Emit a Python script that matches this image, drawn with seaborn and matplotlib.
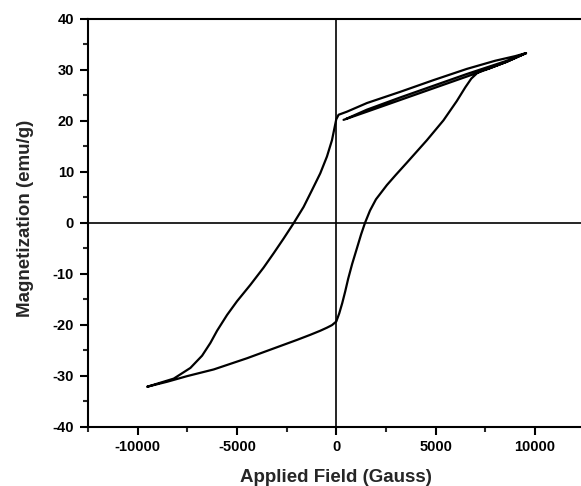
import numpy as np
import pandas as pd
import matplotlib
matplotlib.use("Agg")
import matplotlib.pyplot as plt
from matplotlib.ticker import MultipleLocator
import seaborn as sns

# Hysteresis loop, field in Gauss, magnetization in emu/g
initial_field = [367, 1544, 3220, 4896, 6573, 7580, 8587, 9557]
initial_mag = [20.2, 21.8, 24.1, 26.4, 28.7, 30.1, 31.6, 33.3]

desc_field = [9557, 9000, 8000, 6573, 4896, 3220, 1544, 536, 117, 0,
              -216, -468, -805, -1222, -1645, -2148, -2650, -3154, -3657,
              -4326, -4995, -5498, -6001, -6338, -6756, -7344, -8184, -9523]
desc_mag = [33.3, 32.7, 31.8, 30.2, 28.0, 25.7, 23.5, 21.8, 21.2, 20.3,
            16.2, 13.0, 9.7, 6.4, 3.1, -0.1, -3.1, -6.0, -8.8,
            -12.2, -15.4, -18.1, -21.2, -23.6, -26.1, -28.5, -30.6, -32.2]

asc_field = [-9523, -8500, -7500, -6171, -5332, -4493, -3657, -2817, -1977,
             -1308, -805, -468, -216, 0, 150, 300, 450, 600, 800, 1041, 1250,
             1450, 1700, 2000, 2550, 3000, 3557, 4563, 5397, 6071, 6500, 6800,
             7100, 7410, 7700, 8587, 9557]
asc_mag = [-32.2, -31.2, -30.1, -28.8, -27.7, -26.6, -25.4, -24.2, -23.0,
           -22.0, -21.2, -20.6, -20.1, -19.4, -17.8, -15.8, -13.5, -11.0, -8.1,
           -5.0, -2.3, 0.0, 2.4, 4.6, 7.4, 9.4, 11.8, 16.2, 20.1, 23.9, 26.6,
           28.3, 29.4, 30.0, 30.3, 31.6, 33.3]

return_field = [9557, 8587, 6573, 4896, 3220, 1544, 500]
return_mag = [33.3, 31.8, 29.2, 26.9, 24.6, 22.2, 20.4]

x_ticks = [-10000, -5000, 0, 5000, 10000]
y_ticks = [-40, -30, -20, -10, 0, 10, 20, 30, 40]

field = initial_field + desc_field + asc_field + return_field
mag = initial_mag + desc_mag + asc_mag + return_mag
df = pd.DataFrame({"field": field, "mag": mag, "step": np.arange(len(field))})

sns.set_style("ticks")
plt.rcParams["font.family"] = ["Liberation Sans", "DejaVu Sans"]
plt.rcParams["font.weight"] = "bold"

W, H = 581, 486
fig = plt.figure(figsize=(W / 100, H / 100), dpi=100)
ax = fig.add_axes([88 / W, (H - 426.5) / H, 496.5 / W, 407.5 / H])

ax.axhline(0, color="black", lw=1.2, zorder=1)
ax.axvline(0, color="black", lw=1.2, zorder=1)

sns.lineplot(data=df, x="field", y="mag", sort=False, estimator=None,
             color="black", lw=1.6, ax=ax, zorder=3)
for ln in ax.lines[2:]:
    ln.set_solid_joinstyle("round")
    ln.set_solid_capstyle("round")

ax.set_xlim(-12500, 12500)
ax.set_ylim(-40, 40)
ax.set_xticks(x_ticks)
ax.set_yticks(y_ticks)
ax.set_xticklabels([str(v) for v in x_ticks])
ax.set_yticklabels([str(v) for v in y_ticks])
ax.xaxis.set_minor_locator(MultipleLocator(2500))
ax.yaxis.set_minor_locator(MultipleLocator(5))

for side in ["left", "bottom", "top", "right"]:
    ax.spines[side].set_linewidth(1.5)
    ax.spines[side].set_color("black")

ax.tick_params(which="major", direction="out", length=6, width=1.5,
               labelsize=10.5, pad=4, colors="black")
ax.tick_params(which="minor", direction="out", length=3.5, width=1.5)
ax.tick_params(top=False, right=False, which="both")
for lbl in ax.get_xticklabels() + ax.get_yticklabels():
    lbl.set_fontweight("bold")

ax.set_xlabel("Applied Field (Gauss)", fontsize=13.5, fontweight="bold")
ax.set_ylabel("Magnetization (emu/g)", fontsize=13.5, fontweight="bold")
ax.xaxis.set_label_coords(0.5, -0.104)
ax.yaxis.set_label_coords(-0.108, 0.51)

fig.savefig("out.png", dpi=100, facecolor="white")
